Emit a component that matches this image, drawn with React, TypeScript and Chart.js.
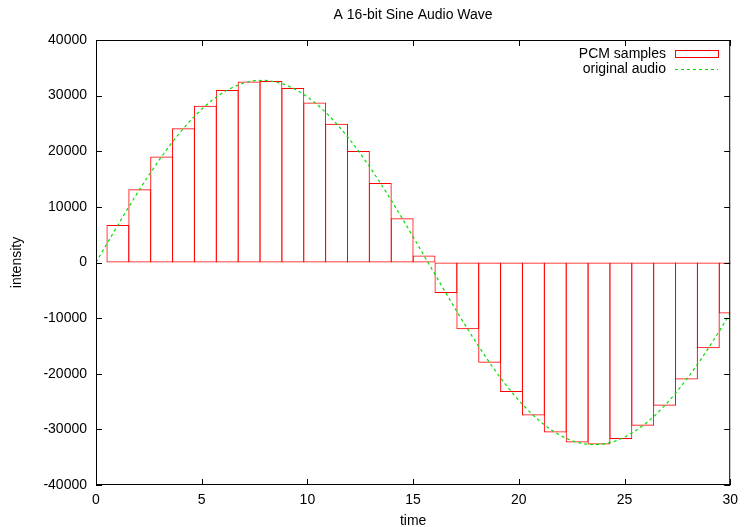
import React, { useEffect, useRef } from "react";
import { Chart, registerables } from "chart.js";

Chart.register(...registerables);

const TITLE = "A 16-bit Sine Audio Wave";
const X_LABEL = "time";
const Y_LABEL = "intensity";
const SAMPLE_LABEL = "PCM samples";
const WAVE_LABEL = "original audio";

// sample times (30 samples spread over 0..30)
const sampleTimes = [
  0, 1.0345, 2.069, 3.1034, 4.1379, 5.1724, 6.2069, 7.2414, 8.2759, 9.3103,
  10.3448, 11.3793, 12.4138, 13.4483, 14.4828, 15.5172, 16.5517, 17.5862, 18.6207, 19.6552,
  20.6897, 21.7241, 22.7586, 23.7931, 24.8276, 25.8621, 26.8966, 27.931, 28.9655, 30,
];
// PCM sample values
const sampleValues = [
  0, 6731, 13175, 19057, 24126, 28166, 31005, 32521, 32651, 31387,
  28784, 24955, 20060, 14310, 7949, 1250, -5503, -12021, -18027, -23263,
  -27508, -30579, -32345, -32732, -31723, -29361, -25746, -21033, -15423, -9156,
];

// original audio curve
const waveTimes = [
  0, 0.5, 1, 1.5, 2, 2.5, 3, 3.5, 4, 4.5, 5, 5.5, 6, 6.5, 7, 7.5, 8, 8.5, 9, 9.5,
  10, 10.5, 11, 11.5, 12, 12.5, 13, 13.5, 14, 14.5, 15, 15.5, 16, 16.5, 17, 17.5, 18, 18.5, 19, 19.5,
  20, 20.5, 21, 21.5, 22, 22.5, 23, 23.5, 24, 24.5, 25, 25.5, 26, 26.5, 27, 27.5, 28, 28.5, 29, 29.5, 30,
];
const waveValues = [
  0, 3271, 6510, 9683, 12760, 15709, 18502, 21109, 23506, 25667,
  27573, 29202, 30540, 31573, 32290, 32685, 32753, 32494, 31910, 31007,
  29795, 28285, 26492, 24435, 22133, 19610, 16891, 14004, 10977, 7840,
  4624, 1362, -1913, -5169, -8373, -11494, -14500, -17361, -20049, -22536,
  -24798, -26813, -28559, -30020, -31181, -32031, -32560, -32764, -32641, -32192,
  -31421, -30336, -28948, -27271, -25321, -23119, -20685, -18045, -15224, -12251, -9156,
];

const X_MIN = 0;
const X_MAX = 30;
const X_STEP = 5;
const Y_MIN = -40000;
const Y_MAX = 40000;
const Y_STEP = 10000;

const FONT = "'Liberation Sans', Arial, Helvetica, sans-serif";
const RED = "#ff0000";
const GREEN = "#00e000";

const framePlugin = {
  id: "gnuplotFrame",
  afterDraw(chart: any) {
    const { ctx, chartArea, scales } = chart;
    const { left, right, top, bottom } = chartArea;
    ctx.save();
    // frame
    ctx.strokeStyle = "#000";
    ctx.lineWidth = 1;
    ctx.strokeRect(left + 0.5, top + 0.5, right - left - 1, bottom - top - 1);
    // ticks
    const tl = 6;
    ctx.beginPath();
    for (let v = X_MIN; v <= X_MAX; v += X_STEP) {
      const px = Math.round(scales.x.getPixelForValue(v)) + 0.5;
      ctx.moveTo(px, bottom);
      ctx.lineTo(px, bottom - tl);
      ctx.moveTo(px, top);
      ctx.lineTo(px, top + tl);
    }
    for (let v = Y_MIN; v <= Y_MAX; v += Y_STEP) {
      const py = Math.round(scales.y.getPixelForValue(v)) + 0.5;
      ctx.moveTo(left, py);
      ctx.lineTo(left + tl, py);
      ctx.moveTo(right, py);
      ctx.lineTo(right - tl, py);
    }
    ctx.stroke();

    // title
    ctx.fillStyle = "#000";
    ctx.font = `14px ${FONT}`;
    ctx.textAlign = "center";
    ctx.textBaseline = "middle";
    ctx.fillText(TITLE, (left + right) / 2, 15);

    // axis titles
    ctx.fillText(X_LABEL, (left + right) / 2, 521);
    ctx.save();
    ctx.translate(17, (top + bottom) / 2);
    ctx.rotate(-Math.PI / 2);
    ctx.fillText(Y_LABEL, 0, 0);
    ctx.restore();

    // legend
    const textRight = 666;
    const sx0 = 675;
    const sx1 = 718;
    const y1 = 54;
    const y2 = 69;
    ctx.textAlign = "right";
    ctx.fillText(SAMPLE_LABEL, textRight, y1);
    ctx.fillText(WAVE_LABEL, textRight, y2);
    ctx.strokeStyle = RED;
    ctx.lineWidth = 1;
    ctx.strokeRect(sx0 + 0.5, y1 - 3.5, sx1 - sx0, 7);
    ctx.strokeStyle = GREEN;
    ctx.setLineDash([3, 3]);
    ctx.beginPath();
    ctx.moveTo(sx0, y2 + 0.5);
    ctx.lineTo(sx1, y2 + 0.5);
    ctx.stroke();
    ctx.restore();
  },
};

export default function App() {
  const ref = useRef<HTMLCanvasElement | null>(null);

  useEffect(() => {
    if (!ref.current) return;
    Chart.defaults.font.family = FONT;
    Chart.defaults.color = "#000";
    const chart = new Chart(ref.current, {
      type: "bar",
      data: {
        datasets: [
          {
            type: "line",
            label: WAVE_LABEL,
            data: waveTimes.map((t, i) => ({ x: t, y: waveValues[i] })),
            borderColor: GREEN,
            borderWidth: 1.2,
            borderDash: [3, 3],
            pointRadius: 0,
            tension: 0,
            fill: false,
            order: 0,
          } as any,
          {
            type: "bar",
            label: SAMPLE_LABEL,
            data: sampleTimes.map((t, i) => ({ x: t, y: sampleValues[i] })),
            backgroundColor: "rgba(0,0,0,0)",
            borderColor: RED,
            borderWidth: 1,
            borderSkipped: false,
            barPercentage: 1.045,
            categoryPercentage: 1,
            clip: 0,
            order: 1,
          } as any,
        ],
      },
      options: {
        animation: false,
        responsive: false,
        layout: { padding: { left: 0, right: 9, top: 40, bottom: 0 } },
        plugins: {
          legend: { display: false },
          title: { display: false },
          tooltip: { enabled: false },
        },
        scales: {
          x: {
            type: "linear",
            min: X_MIN,
            max: X_MAX,
            offset: false,
            grid: { display: false, offset: false, drawTicks: false },
            border: { display: false },
            ticks: {
              stepSize: X_STEP,
              padding: 7,
              font: { size: 14 },
              color: "#000",
              maxRotation: 0,
              callback: (v: any) => String(v),
            },
            afterFit: (s: any) => {
              s.height = 42;
            },
          },
          y: {
            type: "linear",
            min: Y_MIN,
            max: Y_MAX,
            grid: { display: false, drawTicks: false },
            border: { display: false },
            ticks: {
              stepSize: Y_STEP,
              padding: 9,
              font: { size: 14 },
              color: "#000",
              callback: (v: any) => String(v),
            },
            afterFit: (s: any) => {
              s.width = 96;
            },
          },
        },
      } as any,
      plugins: [framePlugin],
    });
    return () => chart.destroy();
  }, []);

  return (
    <div style={{ position: "absolute", left: 0, top: 0, width: 745, height: 527, background: "#fff" }}>
      <canvas ref={ref} width={745} height={527} style={{ display: "block" }} />
    </div>
  );
}
